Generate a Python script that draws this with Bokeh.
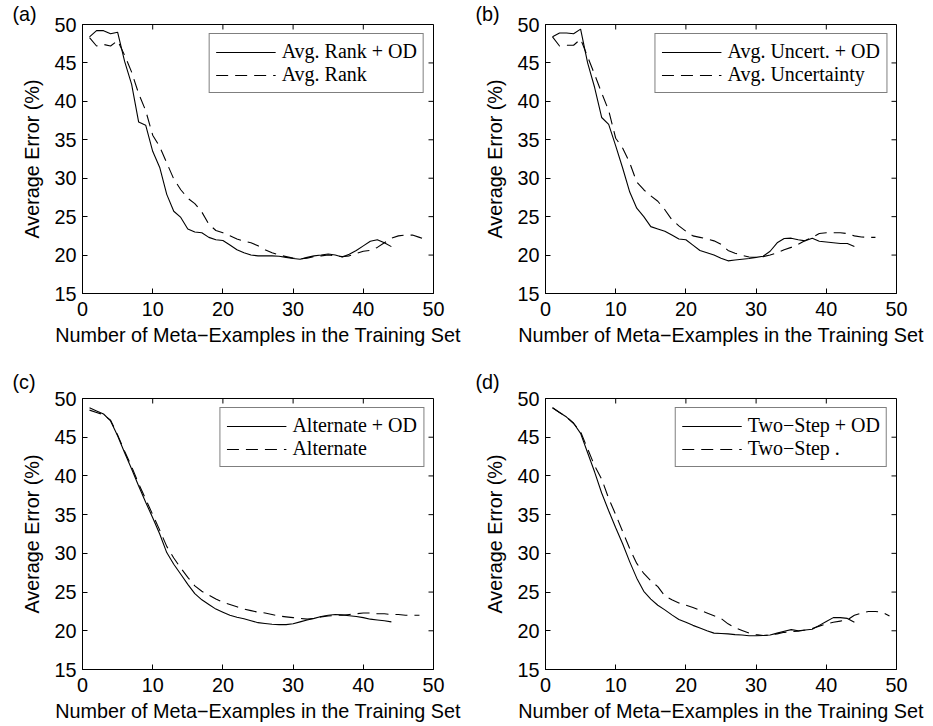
import math
from bokeh.plotting import figure
from bokeh.layouts import column, row
from bokeh.models import Range1d, FixedTicker
from bokeh.embed import file_html
from bokeh.resources import INLINE

# ---------------- data ----------------
x_od = list(range(1, 45))

a_od = [48.4, 49.2, 49.2, 48.8, 49.0, 45.2, 42.2, 37.3, 36.9, 33.5, 31.4, 27.9, 25.7, 24.9, 23.4,
        23.0, 22.9, 22.3, 22.0, 21.9, 21.3, 20.7, 20.3, 20.0, 19.9, 19.9, 19.9, 19.85, 19.7, 19.55,
        19.45, 19.7, 19.9, 20.0, 20.15, 20.0, 19.75, 20.1, 20.6, 21.2, 21.8, 22.0, 21.6, 21.1]
x_a = list(range(1, 50))
a_base = [48.3, 47.2, 47.4, 47.2, 47.9, 46.0, 43.8, 41.0, 38.8, 35.6, 34.1, 32.0, 29.9, 28.5, 27.4,
          26.7, 25.6, 24.0, 23.2, 22.9, 22.5, 22.1, 21.8, 21.6, 21.2, 20.7, 20.3, 20.0, 19.8, 19.6,
          19.5, 19.6, 19.8, 19.9, 20.0, 19.9, 19.8, 19.9, 20.2, 20.5, 20.6, 21.0, 21.6, 22.2, 22.5,
          22.6, 22.6, 22.3, 22.0]

b_od = [48.4, 48.9, 48.9, 48.8, 49.4, 45.0, 41.8, 37.9, 37.0, 34.2, 31.3, 28.2, 26.1, 25.0, 23.7,
        23.4, 23.1, 22.6, 22.1, 22.0, 21.3, 20.6, 20.3, 20.0, 19.6, 19.25, 19.35, 19.45, 19.55, 19.7,
        19.85, 20.5, 21.6, 22.15, 22.2, 22.0, 21.85, 22.2, 21.8, 21.7, 21.6, 21.5, 21.5, 21.1]
x_b = list(range(1, 48))
b_base = [48.4, 47.2, 47.3, 47.3, 48.1, 45.8, 43.5, 41.1, 38.8, 35.2, 33.9, 32.0, 29.5, 28.5, 27.7,
          27.0, 25.9, 24.6, 23.8, 23.1, 22.5, 22.3, 22.1, 21.85, 21.4, 20.6, 20.25, 19.95, 19.75, 19.7,
          19.8, 20.0, 20.3, 20.7, 21.0, 21.4, 21.9, 22.3, 22.8, 22.9, 22.9, 22.9, 22.8, 22.5, 22.35,
          22.3, 22.3]

c_od = [48.8, 48.4, 48.0, 47.1, 45.2, 43.0, 40.9, 38.7, 36.6, 34.6, 32.5, 30.1, 28.6, 27.3, 26.0,
        24.8, 24.0, 23.4, 22.8, 22.4, 22.0, 21.75, 21.55, 21.3, 21.05, 20.95, 20.85, 20.8, 20.8, 20.9,
        21.15, 21.4, 21.6, 21.85, 22.0, 22.1, 22.05, 21.95, 21.85, 21.7, 21.5, 21.4, 21.3, 21.15]
x_c = list(range(1, 49))
c_base = [48.5, 48.2, 47.9, 47.2, 45.3, 43.2, 41.2, 39.0, 37.0, 35.0, 33.0, 30.9, 29.4, 28.1, 26.9,
          25.8, 25.1, 24.6, 24.1, 23.7, 23.4, 23.1, 22.8, 22.6, 22.4, 22.3, 22.1, 21.9, 21.8, 21.7,
          21.6, 21.5, 21.6, 21.8, 21.9, 22.0, 22.0, 22.1, 22.2, 22.3, 22.3, 22.2, 22.2, 22.1, 22.1,
          22.0, 22.0, 22.0]

d_od = [48.8, 48.2, 47.6, 46.8, 45.5, 43.0, 40.5, 37.8, 35.5, 33.3, 31.2, 28.9, 26.8, 25.1, 24.1,
        23.3, 22.7, 22.05, 21.45, 21.1, 20.7, 20.35, 20.0, 19.7, 19.65, 19.6, 19.5, 19.45, 19.35, 19.35,
        19.4, 19.45, 19.7, 19.95, 20.15, 20.0, 20.1, 20.2, 20.7, 21.2, 21.7, 21.7, 21.6, 21.1]
x_d = list(range(1, 50))
d_base = [48.8, 48.2, 47.6, 46.8, 45.7, 43.5, 41.3, 39.6, 37.1, 35.0, 32.8, 30.6, 28.7, 27.4, 26.45,
          25.7, 24.5, 24.0, 23.6, 23.3, 23.0, 22.65, 22.3, 21.95, 21.6, 20.9, 20.4, 20.05, 19.7, 19.5,
          19.4, 19.45, 19.6, 19.8, 19.9, 19.95, 20.1, 20.3, 20.6, 20.9, 21.1, 21.25, 21.4, 22.0, 22.3,
          22.5, 22.5, 22.4, 21.9]

x_ticks = [0, 10, 20, 30, 40, 50]
y_ticks = [15, 20, 25, 30, 35, 40, 45, 50]
x_label = "Number of Meta\u2212Examples in the Training Set"
y_label = "Average Error (%)"

SANS = "Liberation Sans"
SERIF = "Liberation Serif"
FS = "19.8px"


def make_panel(tag, xo, yo, xb, yb, lab_od, lab_b, width, height, top, bottom, right,
               tag_standoff):
    p = figure(width=width, height=height, output_backend="svg", toolbar_location=None,
               x_range=Range1d(x_ticks[0], x_ticks[-1]), y_range=Range1d(y_ticks[0], y_ticks[-1]),
               min_border_left=82, min_border_right=right,
               min_border_top=top, min_border_bottom=bottom,
               x_axis_label=x_label, y_axis_label=y_label, title=tag)
    p.title.align = "left"
    p.title.offset = -70
    p.title.standoff = tag_standoff
    p.title.vertical_align = "bottom"
    p.title.text_font = SANS
    p.title.text_font_size = FS
    p.title.text_font_style = "normal"
    p.title.text_color = "black"

    p.xgrid.visible = False
    p.ygrid.visible = False
    p.outline_line_color = "black"
    p.outline_line_width = 1
    p.background_fill_color = "white"
    p.border_fill_color = "white"

    for ax, tk in ((p.xaxis[0], x_ticks), (p.yaxis[0], y_ticks)):
        ax.ticker = FixedTicker(ticks=tk)
        ax.major_tick_in = 5
        ax.major_tick_out = 0
        ax.minor_tick_line_color = None
        ax.axis_line_color = "black"
        ax.major_tick_line_color = "black"
        ax.major_label_text_font = SANS
        ax.major_label_text_font_size = FS
        ax.major_label_text_color = "black"
        ax.axis_label_text_font = SANS
        ax.axis_label_text_font_size = FS
        ax.axis_label_text_font_style = "normal"
        ax.axis_label_text_color = "black"
    p.xaxis[0].major_label_standoff = 8
    p.xaxis[0].axis_label_standoff = 5
    p.yaxis[0].major_label_standoff = 6
    p.yaxis[0].axis_label_standoff = 8

    # inner ticks on the top and right edges of the box
    p.ray(x=x_ticks, y=[y_ticks[-1]] * len(x_ticks), length=5, length_units="screen",
          angle=-math.pi / 2, line_color="black", line_width=1)
    p.ray(x=[x_ticks[-1]] * len(y_ticks), y=y_ticks, length=5, length_units="screen",
          angle=math.pi, line_color="black", line_width=1)

    p.line(xo, yo, line_color="black", line_width=1.1, legend_label=lab_od)
    p.line(xb, yb, line_color="black", line_width=1.1, line_dash="12 7", legend_label=lab_b)

    lg = p.legend[0]
    lg.location = "top_right"
    lg.margin = 9
    lg.border_line_color = "black"
    lg.border_line_width = 1
    lg.background_fill_color = "white"
    lg.background_fill_alpha = 1
    lg.label_text_font = SERIF
    lg.label_text_font_size = "20px"
    lg.label_text_color = "black"
    lg.glyph_width = 60
    lg.glyph_height = 20
    lg.label_height = 20
    lg.spacing = 0
    lg.padding = 6
    lg.label_standoff = 6
    return p


pa = make_panel("(a)", x_od, a_od, x_a, a_base, "Avg. Rank + OD", "Avg. Rank",
                463, 360, 21, 67, 30, 0)
pb = make_panel("(b)", x_od, b_od, x_b, b_base, "Avg. Uncert. + OD", "Avg. Uncertainty",
                470, 360, 21, 67, 37, 0)
pc = make_panel("(c)", x_od, c_od, x_c, c_base, "Alternate + OD", "Alternate",
                463, 366, 38, 57, 30, 12)
pd = make_panel("(d)", x_od, d_od, x_d, d_base, "Two\u2212Step + OD", "Two\u2212Step .",
                470, 366, 38, 57, 37, 12)

layout = column(row(pa, pb), row(pc, pd))
open("out.html", "w").write(file_html(layout, INLINE))
